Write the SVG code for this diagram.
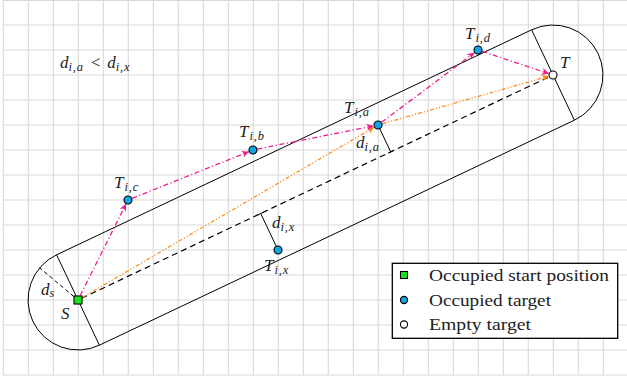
<svg xmlns="http://www.w3.org/2000/svg" width="627" height="382" viewBox="0 0 627 382">
<style>
.grid{stroke:#d9d9d9;stroke-width:1.1;fill:none}
.edge{stroke:#000;stroke-width:1;fill:none}
.mag{stroke:#f01a8c;stroke-width:1.3;fill:none;stroke-dasharray:5 2.5 1.2 2.5}
.org{stroke:#ff8c1a;stroke-width:1.3;fill:none;stroke-dasharray:4 2 1.2 2 1.2 2}
.dash{stroke:#000;stroke-width:1.2;fill:none;stroke-dasharray:6 4}
.tgt{fill:#12a4e3;stroke:#000;stroke-width:1.1}
.emp{fill:#fff;stroke:#000;stroke-width:1.1}
.start{fill:#19e619;stroke:#000;stroke-width:1.1}
.m{font-family:"Liberation Serif",serif;font-style:italic;font-size:17px;fill:#222}
.sub{font-size:12.5px;letter-spacing:0.8px}
.leg{font-family:"Liberation Serif",serif;font-size:17.5px;fill:#222}
</style>
<defs>
<marker id="am" viewBox="0 0 10 10" refX="10" refY="5" markerWidth="7" markerHeight="7" markerUnits="userSpaceOnUse" orient="auto"><path d="M0,0 L10,5 L0,10 L3,5 Z" fill="#f01a8c"/></marker>
<marker id="ao" viewBox="0 0 10 10" refX="10" refY="5" markerWidth="7" markerHeight="7" markerUnits="userSpaceOnUse" orient="auto"><path d="M0,0 L10,5 L0,10 L3,5 Z" fill="#ff8c1a"/></marker>
</defs>
<rect width="627" height="382" fill="#fff"/>
<g id="grid">
<path class="grid" d="M3.3,0V375M28.3,0V375M53.3,0V375M78.3,0V375M103.3,0V375M128.3,0V375M153.3,0V375M178.3,0V375M203.3,0V375M228.3,0V375M253.3,0V375M278.3,0V375M303.3,0V375M328.3,0V375M353.3,0V375M378.3,0V375M403.3,0V375M428.3,0V375M453.3,0V375M478.3,0V375M503.3,0V375M528.3,0V375M553.3,0V375M578.3,0V375M603.3,0V375"/>
<path class="grid" d="M3.3,0.5H627M3.3,25H627M3.3,50H627M3.3,75H627M3.3,100H627M3.3,125H627M3.3,150H627M3.3,175H627M3.3,200H627M3.3,225H627M3.3,250H627M3.3,275H627M3.3,300H627M3.3,325H627M3.3,350H627M3.3,375H627"/>
</g>
<g id="corridor">
<path class="edge" d="M56.596,254.813 L531.596,29.813 A50,50 0 0 1 574.404,120.187 L99.404,345.187 A50,50 0 0 1 56.596,254.813 Z"/>
<line class="edge" x1="56.596" y1="254.813" x2="99.404" y2="345.187"/>
<line class="edge" x1="531.596" y1="29.813" x2="574.404" y2="120.187"/>
</g>
<g id="connectors">
<line class="dash" x1="81.6" y1="298.3" x2="549.4" y2="76.7"/>
<line class="dash" style="stroke-dasharray:4 3;stroke-width:1" x1="74" y1="296.7" x2="39.7" y2="267.9"/>
<line class="org" x1="82.3" y1="297.5" x2="374.1" y2="127.3" marker-end="url(#ao)"/>
<line class="org" x1="382.3" y1="123.8" x2="548.7" y2="76.2" marker-end="url(#ao)"/>
<line class="mag" x1="80.2" y1="295.5" x2="126" y2="204" marker-end="url(#am)"/>
<line class="mag" x1="132.2" y1="198.3" x2="248.8" y2="151.7" marker-end="url(#am)"/>
<line class="mag" x1="257.4" y1="149.1" x2="373.6" y2="125.9" marker-end="url(#am)"/>
<line class="mag" x1="381.6" y1="122.3" x2="474.4" y2="52.7" marker-end="url(#am)"/>
<line class="mag" x1="482.3" y1="51.4" x2="548.7" y2="73.6" marker-end="url(#am)"/>
<path class="edge" d="M379.7,128.6 L390.7,151.9 M388,153.2 L393.4,150.6"/>
<path class="edge" d="M276.3,246.4 L260.7,213.5 M258,214.8 L263.4,212.2"/>
</g>
<g id="S"><rect class="start" x="74" y="296" width="8" height="8"/><text class="m" x="61" y="319">S</text></g>
<g id="T"><circle class="emp" cx="553" cy="75" r="4"/><text class="m" x="560" y="68">T</text></g>
<g id="Tic"><circle class="tgt" cx="128" cy="200" r="4"/><text class="m" x="114" y="188">T<tspan class="sub" dy="3" dx="1">i,c</tspan></text></g>
<g id="Tib"><circle class="tgt" cx="253" cy="150" r="4"/><text class="m" x="239" y="137">T<tspan class="sub" dy="3" dx="1">i,b</tspan></text></g>
<g id="Tia"><circle class="tgt" cx="378" cy="125" r="4"/><text class="m" x="344" y="113">T<tspan class="sub" dy="3" dx="1">i,a</tspan></text></g>
<g id="Tid"><circle class="tgt" cx="478" cy="50" r="4"/><text class="m" x="465" y="39">T<tspan class="sub" dy="3" dx="1">i,d</tspan></text></g>
<g id="Tix"><circle class="tgt" cx="278" cy="250" r="4"/><text class="m" x="264" y="271">T<tspan class="sub" dy="3" dx="1">i,x</tspan></text></g>
<g id="labels">
<text class="m" x="356" y="148">d<tspan class="sub" dy="3">i,a</tspan></text>
<text class="m" x="272" y="228">d<tspan class="sub" dy="3">i,x</tspan></text>
<text class="m" x="41" y="295">d<tspan class="sub" dy="2">s</tspan></text>
<text class="m" x="60" y="68">d<tspan class="sub" dy="3">i,a</tspan><tspan dy="-3" style="font-style:normal" dx="7">&lt;</tspan><tspan dx="7">d</tspan><tspan class="sub" dy="3">i,x</tspan></text>
</g>
<g id="legend">
<rect x="392.3" y="263.3" width="225.4" height="75" fill="#fff" stroke="#000" stroke-width="1.3"/>
<rect class="start" x="400.5" y="271.5" width="7" height="7"/>
<circle class="tgt" cx="404" cy="300" r="3.6"/>
<circle class="emp" cx="404" cy="324.5" r="3.6"/>
<text class="leg" x="429" y="281" textLength="180" lengthAdjust="spacingAndGlyphs">Occupied start position</text>
<text class="leg" x="429" y="306" textLength="122" lengthAdjust="spacingAndGlyphs">Occupied target</text>
<text class="leg" x="429" y="330" textLength="102" lengthAdjust="spacingAndGlyphs">Empty target</text>
</g>
</svg>
